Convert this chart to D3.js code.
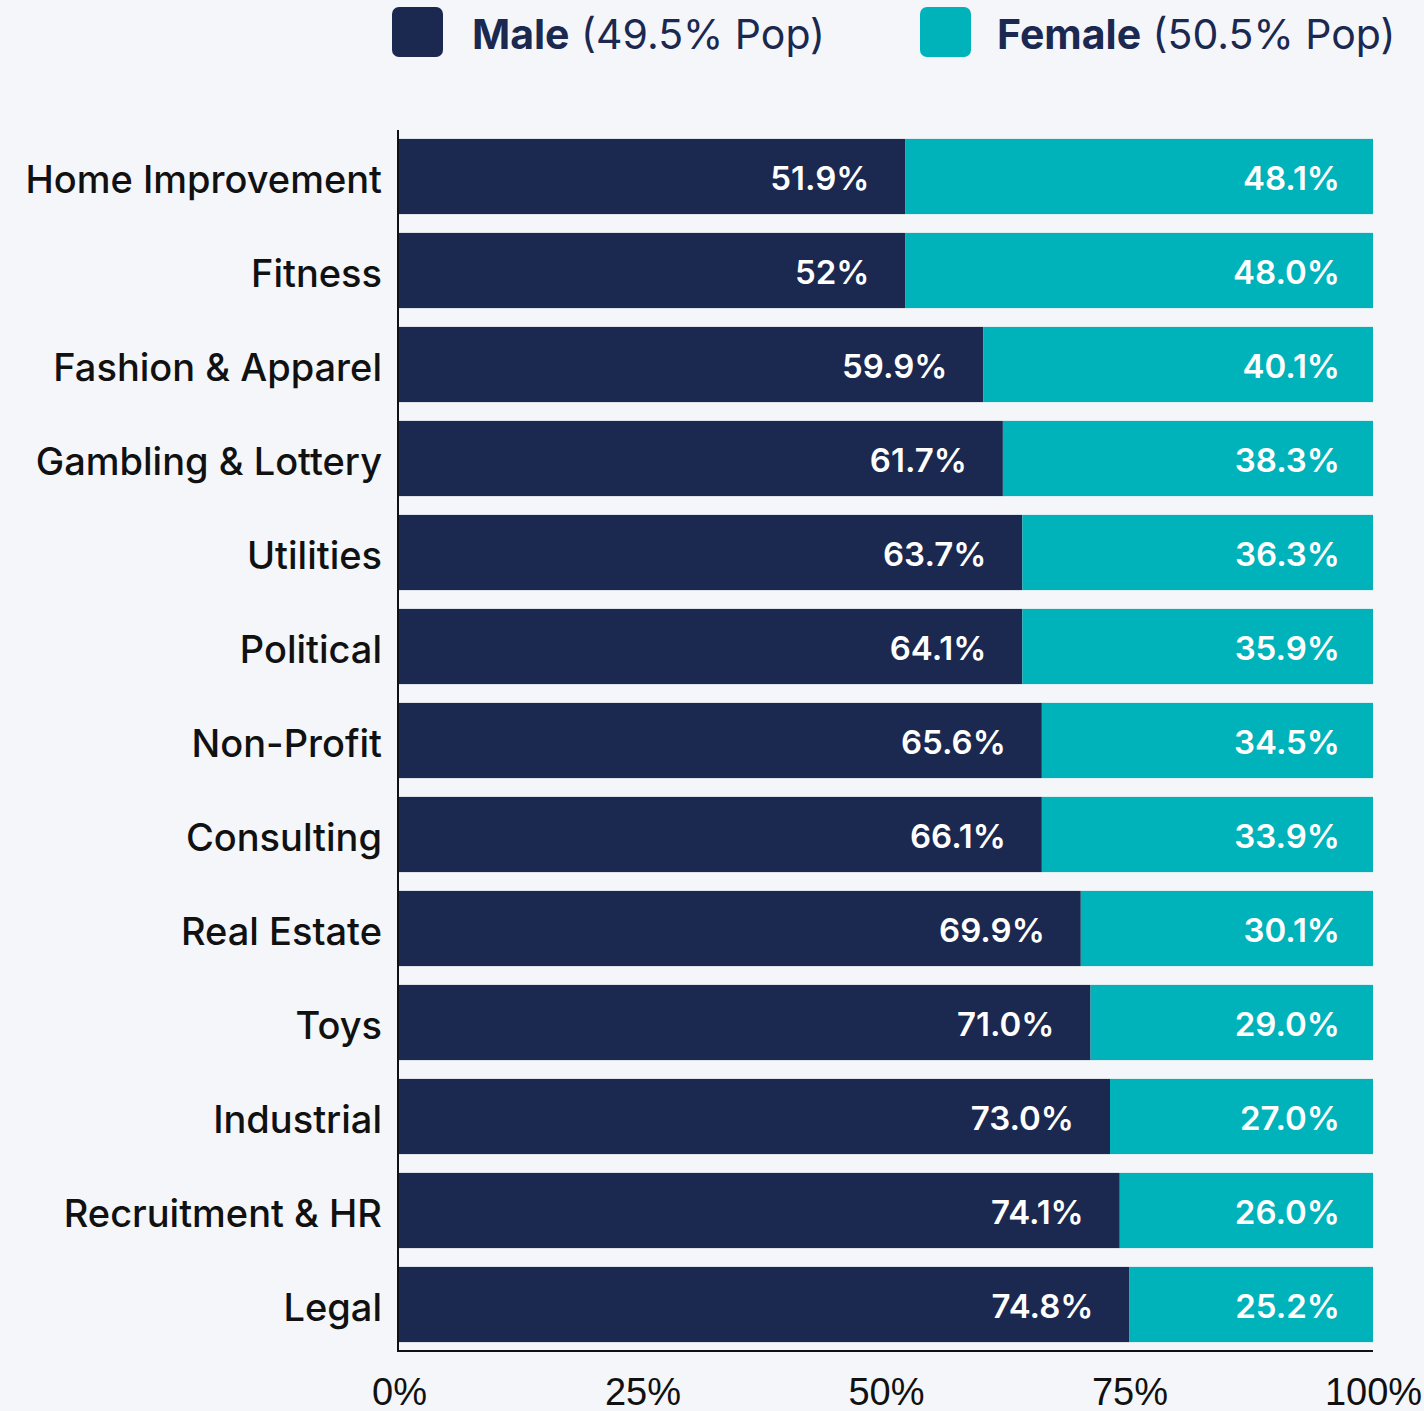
<!DOCTYPE html>
<html>
<head>
<meta charset="utf-8">
<script src="https://cdn.jsdelivr.net/npm/d3@7"></script>
<style>
  html, body { margin: 0; padding: 0; background: #f4f6fa; }
  svg { display: block; }
</style>
</head>
<body>
<svg id="chart" width="1424" height="1411"></svg>
<script>
// ---- data ----
const categories = ["Home Improvement","Fitness","Fashion & Apparel","Gambling & Lottery","Utilities","Political","Non-Profit","Consulting","Real Estate","Toys","Industrial","Recruitment & HR","Legal"];
const maleValues = [52, 52, 60, 62, 64, 64, 66, 66, 70, 71, 73, 74, 75];
const femaleValues = [48, 48, 40, 38, 36, 36, 34, 34, 30, 29, 27, 26, 25];
const maleLabels = ["51.9%","52%","59.9%","61.7%","63.7%","64.1%","65.6%","66.1%","69.9%","71.0%","73.0%","74.1%","74.8%"];
const femaleLabels = ["48.1%","48.0%","40.1%","38.3%","36.3%","35.9%","34.5%","33.9%","30.1%","29.0%","27.0%","26.0%","25.2%"];
const tickValues = [0, 25, 50, 75, 100];
const tickLabels = ["0%","25%","50%","75%","100%"];
const legendNames = ["Male","Female"];
const legendNotes = ["(49.5% Pop)","(50.5% Pop)"];

const MALE = "#1b2850", FEMALE = "#00b3ba", TEXT = "#1b2850";

const svg = d3.select("#chart");
const x = d3.scaleLinear().domain([0,100]).range([399,1373]);
const y = d3.scaleBand().domain(categories).range([129.5,1351.5]).paddingInner(0.2).paddingOuter(0.1);

const rows = categories.map((c,i)=>({c, m:maleValues[i], f:femaleValues[i], ml:maleLabels[i], fl:femaleLabels[i]}));

const g = svg.append("g");
g.selectAll("rect.m").data(rows).join("rect").attr("class","m")
  .attr("x", x(0)).attr("y", d=>y(d.c)).attr("width", d=>x(d.m)-x(0)).attr("height", y.bandwidth()).attr("fill", MALE);
g.selectAll("rect.f").data(rows).join("rect").attr("class","f")
  .attr("x", d=>x(d.m)).attr("y", d=>y(d.c)).attr("width", d=>x(100)-x(d.m)).attr("height", y.bandwidth()).attr("fill", FEMALE);

const lblFont = "Inter, 'Noto Sans', sans-serif";
g.selectAll("text.ml").data(rows).join("text").attr("class","ml")
  .attr("x", d=>x(d.m)-36).attr("y", d=>y(d.c)+y.bandwidth()/2+13)
  .attr("text-anchor","end").attr("fill","#ffffff").attr("font-family",lblFont)
  .attr("font-weight",600).attr("font-size",33).text(d=>d.ml);
g.selectAll("text.fl").data(rows).join("text").attr("class","fl")
  .attr("x", x(100)-33).attr("y", d=>y(d.c)+y.bandwidth()/2+13)
  .attr("text-anchor","end").attr("fill","#ffffff").attr("font-family",lblFont)
  .attr("font-weight",600).attr("font-size",33).text(d=>d.fl);

// y axis (category labels)
const yAxis = d3.axisLeft(y).tickSize(0).tickPadding(0);
const ya = svg.append("g").attr("transform","translate(398,0)").call(yAxis);
ya.select(".domain").remove();
ya.selectAll(".tick text").attr("x",-16).attr("dy","0.32em").attr("y",4.5)
  .attr("font-family",lblFont).attr("font-size",38).attr("font-weight",500).attr("fill","#111111");

// axis lines
svg.append("line").attr("x1",398).attr("x2",398).attr("y1",130).attr("y2",1352).attr("stroke","#111").attr("stroke-width",2);
svg.append("line").attr("x1",397).attr("x2",x(100)).attr("y1",1351).attr("y2",1351).attr("stroke","#111").attr("stroke-width",2);

// x axis ticks
const xAxis = d3.axisBottom(x).tickValues(tickValues).tickFormat((d,i)=>tickLabels[i]).tickSize(0).tickPadding(0);
const xa = svg.append("g").attr("transform","translate(0,1351)").call(xAxis);
xa.select(".domain").remove();
xa.selectAll("text").attr("dy",null).attr("y",54)
  .attr("font-family","'Liberation Sans', Arial, sans-serif").attr("font-size",38).attr("fill","#111111");

// legend
const legendX = [392, 920];
const legendTextX = [472, 997];
const lg = svg.append("g");
legendNames.forEach((n,i)=>{
  lg.append("rect").attr("x",legendX[i]).attr("y",7).attr("width",51).attr("height",50).attr("rx",7)
    .attr("fill", i===0?MALE:FEMALE);
  const t = lg.append("text").attr("x",legendTextX[i]).attr("y",49)
    .attr("font-family",lblFont).attr("font-size",41).attr("fill",TEXT);
  t.append("tspan").attr("font-weight",700).text(n);
  t.append("tspan").attr("font-weight",400).text(" "+legendNotes[i]);
});
</script>
</body>
</html>
